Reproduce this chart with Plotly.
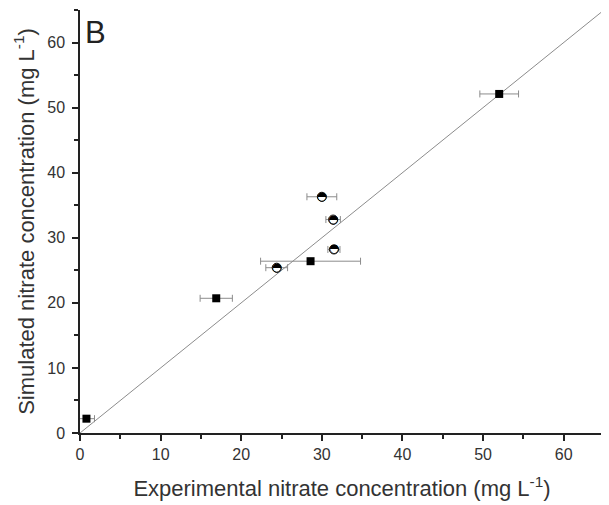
import plotly.graph_objects as go

# Square series (experimental vs simulated)
sq_exp = [0.8, 16.9, 28.6, 52.0]
sq_sim = [2.2, 20.7, 26.4, 52.1]
sq_err = [1.0, 2.0, 6.2, 2.4]

# Half-filled circle series
hc_exp = [30.0, 31.4, 31.5, 24.4]
hc_sim = [36.3, 32.8, 28.2, 25.4]
hc_err = [1.85, 0.9, 0.75, 1.35]

# 1:1 line
line_x = [0, 65]
line_y = [0, 65]

FONT = "Liberation Sans, Arial"
TXT = "#333333"
AX = "#222222"

fig = go.Figure()
fig.add_trace(go.Scatter(x=line_x, y=line_y, mode="lines",
                         line=dict(color="#8c8c8c", width=1), hoverinfo="skip"))
fig.add_trace(go.Scatter(x=sq_exp, y=sq_sim, mode="markers",
                         marker=dict(symbol="square", size=8, color="black"),
                         error_x=dict(type="data", array=sq_err, color="#8c8c8c",
                                      thickness=1, width=3.5)))
fig.add_trace(go.Scatter(x=hc_exp, y=hc_sim, mode="markers",
                         marker=dict(symbol="circle", size=9, color="white",
                                     line=dict(color="black", width=1)),
                         error_x=dict(type="data", array=hc_err, color="#8c8c8c",
                                      thickness=1, width=3.5)))
fig.add_trace(go.Scatter(x=hc_exp, y=hc_sim, mode="text", text=["◓"] * len(hc_exp),
                         textposition="middle center",
                         textfont=dict(family="DejaVu Sans", size=12, color="black"),
                         hoverinfo="skip"))

axis_common = dict(
    showline=True, linecolor=AX, linewidth=1.5,
    ticks="outside", ticklen=6, tickwidth=1.5, tickcolor=AX,
    showgrid=False, zeroline=False, dtick=10, tick0=0,
    minor=dict(ticks="outside", ticklen=4, tickwidth=1.5, tickcolor=AX, dtick=5),
    tickfont=dict(family=FONT, size=16, color=TXT),
    range=[0, 65], mirror=False, automargin=False,
)

# page body has an 8px margin, so the figure is offset by (8, 8)
fig.update_layout(
    width=601, height=497,
    margin=dict(l=72, r=5, t=2, b=72),
    plot_bgcolor="white", paper_bgcolor="white",
    showlegend=False,
    xaxis=dict(**axis_common, ticklabelstandoff=0,
               title=dict(text="Experimental nitrate concentration (mg L<sup>-1</sup>)",
                          font=dict(family=FONT, size=22, color=TXT),
                          standoff=19)),
    yaxis=dict(**axis_common, ticklabelstandoff=4,
               title=dict(text="Simulated nitrate concentration (mg L<sup>-1</sup>)",
                          font=dict(family=FONT, size=22, color=TXT),
                          standoff=7)),
    annotations=[dict(text="B", xref="paper", yref="paper", x=0.006, y=0.993,
                      xanchor="left", yanchor="top", showarrow=False,
                      font=dict(family=FONT, size=31, color=AX))],
)

fig.write_html("out.html")
